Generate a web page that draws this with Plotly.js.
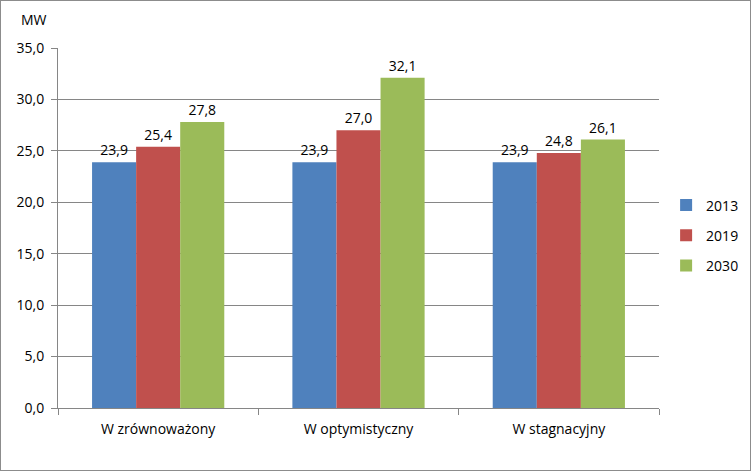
<!DOCTYPE html>
<html><head><meta charset="utf-8">
<script src="https://cdn.plot.ly/plotly-3.0.1.min.js"></script>
<style>html,body{margin:0;padding:0;background:#fff}#c{width:751px;height:471px;box-sizing:border-box;border:1px solid #8c8c8c}</style>
</head><body><div id="c"></div>
<script>
const categories = ["W zrównoważony", "W optymistyczny", "W stagnacyjny"];
const years = ["2013", "2019", "2030"];
const v2013 = [23.9, 23.9, 23.9];
const v2019 = [25.4, 27.0, 24.8];
const v2030 = [27.8, 32.1, 26.1];
const colors = ["#4F81BD", "#C0504D", "#9BBB59"];
const series = [v2013, v2019, v2030];
const font = {family: "Open Sans, Liberation Sans, sans-serif", size: 14, color: "#000"};
const traces = series.map((vals, i) => ({
  type: "bar", name: years[i], x: categories, y: vals, legendgroup: years[i],
  marker: {color: colors[i]},
  texttemplate: "%{y:.1f}", textposition: "outside", cliponaxis: false,
  textfont: font
}));
const layout = {
  width: 749, height: 469,
  margin: {l: 57, r: 91, t: 47, b: 62},
  separators: ", ",
  barmode: "group", bargap: 0.34, bargroupgap: 0,
  paper_bgcolor: "#fff", plot_bgcolor: "#fff",
  font: font,
  showlegend: true,
  legend: {xref: "container", yref: "container", x: 0.888, y: 0.5, yanchor: "middle", xanchor: "left", font: font, tracegroupgap: 9, itemwidth: 30},
  xaxis: {showline: true, linecolor: "#868686", ticks: "outside", tickson: "boundaries", ticklen: 6, tickcolor: "#868686", tickfont: font, showgrid: false, ticklabelstandoff: 8},
  yaxis: {range: [0, 35], dtick: 5, tickformat: ".1f", showline: true, linecolor: "#868686", ticks: "outside", ticklen: 6, tickcolor: "#868686", gridcolor: "#868686", gridwidth: 1, tickfont: font, zeroline: false, ticklabelstandoff: 4},
  annotations: [{text: "MW", xref: "paper", yref: "paper", x: -0.04, y: 1.08, xanchor: "center", yanchor: "middle", showarrow: false, font: font}]
};
Plotly.newPlot("c", traces, layout, {displayModeBar: false});
</script></body></html>
